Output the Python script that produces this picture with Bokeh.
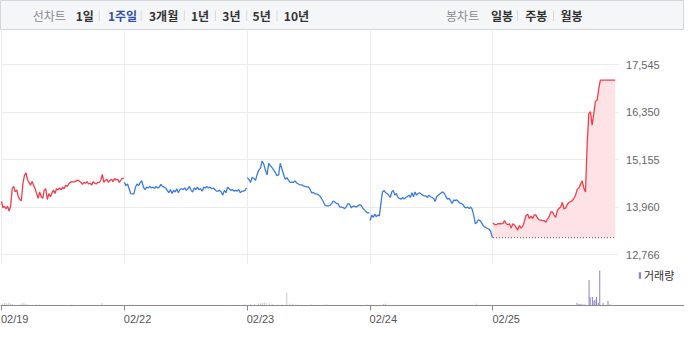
import numpy as np
from bokeh.plotting import figure
from bokeh.layouts import column
from bokeh.models import (Range1d, FixedTicker, NumeralTickFormatter, LinearAxis,
                          Legend, LegendItem, Grid)
from bokeh.core.properties import value
from bokeh.core.validation import silence
from bokeh.core.validation.warnings import MISSING_RENDERERS
from bokeh.embed import file_html
from bokeh.resources import INLINE

silence(MISSING_RENDERERS, True)

# ---------------- data ----------------
dates = ["02/19", "02/22", "02/23", "02/24", "02/25"]

price_0219 = [14110, 13950, 13990, 13920, 13990, 13870, 13990, 14430, 14490, 14350,
              14400, 14230, 14160, 14130, 14550, 14760, 14830, 14670, 14590, 14520,
              14610, 14520, 14430, 14310, 14190, 14350, 14230, 14190, 14400, 14430,
              14160, 14310, 14230, 14320, 14400, 14310, 14430, 14400, 14450, 14400,
              14470, 14430, 14520, 14490, 14550, 14590, 14610, 14600, 14610, 14630,
              14650, 14620, 14590, 14540, 14590, 14570, 14610, 14550, 14570, 14520,
              14610, 14570, 14550, 14590, 14590, 14650, 14790, 14590, 14640, 14670,
              14590, 14640, 14670, 14610, 14690, 14650, 14670, 14590, 14640, 14690,
              14690]

price_0222 = [14590, 14510, 14550, 14430, 14310, 14300, 14300, 14470, 14550, 14510,
              14590, 14630, 14470, 14410, 14470, 14450, 14490, 14450, 14470, 14440,
              14490, 14450, 14470, 14540, 14490, 14470, 14450, 14390, 14330, 14410,
              14310, 14390, 14350, 14430, 14330, 14410, 14430, 14410, 14450, 14390,
              14430, 14490, 14390, 14350, 14450, 14410, 14470, 14410, 14430, 14370,
              14470, 14450, 14490, 14450, 14470, 14430, 14450, 14410, 14370, 14370,
              14390, 14350, 14270, 14390, 14330, 14470, 14430, 14390, 14410, 14370,
              14390, 14370, 14410, 14330, 14370, 14370, 14390, 14450]

price_0223 = [14710, 14670, 14590, 14720, 14690, 14640, 14790, 14900, 14950, 15130,
              15050, 14900, 14780, 15070, 15010, 14960, 14900, 14840, 14760, 14780,
              15070, 14930, 14790, 14670, 14710, 14640, 14590, 14600, 14590, 14630,
              14570, 14550, 14530, 14530, 14500, 14490, 14480, 14480, 14420, 14330,
              14340, 14300, 14300, 14280, 14250, 14180, 14110, 14020, 14000, 14000,
              14010, 14050, 14120, 14100, 14060, 14050, 13970, 13970, 13960, 13930,
              13980, 14060, 14040, 13950, 13990, 13990, 13970, 14000, 14030, 14010,
              13940, 13900, 13850, 13820, 13830]

price_0224 = [13630, 13770, 13710, 13790, 13730, 13770, 13750, 14070, 14350, 14390,
              14330, 14310, 14270, 14210, 14350, 14390, 14270, 14310, 14210, 14190,
              14170, 14210, 14170, 14210, 14230, 14270, 14210, 14330, 14230, 14350,
              14270, 14310, 14330, 14300, 14270, 14250, 14250, 14210, 14270, 14230,
              14210, 14190, 14110, 14230, 14270, 14300, 14330, 14350, 14310, 14230,
              14170, 14190, 14130, 14060, 14150, 14130, 14150, 14110, 14070, 14060,
              14030, 13970, 13950, 13970, 13930, 13970, 13910, 13750, 13550, 13590,
              13650, 13630, 13580, 13510, 13470, 13450, 13430, 13410, 13350, 13200]

price_0225 = [13570, 13530, 13530, 13550, 13550, 13550, 13560, 13630, 13550, 13530,
              13550, 13440, 13550, 13520, 13460, 13390, 13510, 13440, 13490, 13610,
              13760, 13790, 13680, 13740, 13680, 13770, 13770, 13690, 13650, 13640,
              13630, 13630, 13590, 13670, 13730, 13850, 13850, 13770, 13710, 13890,
              13940, 13970, 14090, 13920, 13950, 14040, 14090, 14110, 14130, 14190,
              14270, 14420, 14450, 14540, 14630, 14450, 14350, 15550, 16320, 16370,
              16030, 16320, 16630, 16650, 16940, 17160, 17160, 17160, 17160, 17160,
              17160, 17160, 17160, 17160, 17160]

y_ticks = [12766, 13960, 15155, 16350, 17545]

# volume: time in trading-day units (day index + fraction of session), shares
vol_time = [0.008, 0.024, 0.040, 0.056, 0.072, 0.087, 0.151, 0.167, 0.183, 0.199,
            0.223, 0.286, 0.310, 0.573, 0.819,
            1.042, 1.066, 1.845,
            1.980, 2.028, 2.060, 2.091, 2.107, 2.123, 2.139, 2.155, 2.179, 2.203,
            2.250, 2.282, 2.322, 2.346, 2.370, 2.410, 2.521, 2.632, 2.648,
            2.974, 3.109, 3.125, 3.865,
            4.684, 4.700, 4.716, 4.732, 4.748, 4.782, 4.791, 4.809, 4.822, 4.830,
            4.843, 4.857, 4.869, 4.896, 4.936, 4.954]
vol_shares = [1500, 2500, 2000, 3000, 2000, 1500, 1000, 2000, 3000, 1500,
              1000, 1000, 1000, 1000, 2500,
              1000, 1000, 800,
              1000, 1500, 1500, 2000, 2000, 2500, 3000, 2500, 2000, 1500,
              1000, 1000, 13000, 2000, 1500, 1000, 1000, 1000, 1000,
              1000, 1500, 2000, 2000,
              2500, 1500, 1500, 1000, 1000, 26700, 9000, 9000, 5000, 6000,
              9000, 3000, 36700, 2700, 4700, 1000]
vol_label = "거래량"

menu_line_title = "선차트"
menu_line = ["1일", "1주일", "3개월", "1년", "3년", "5년", "10년"]
menu_line_active = "1주일"
menu_candle_title = "봉차트"
menu_candle = ["일봉", "주봉", "월봉"]

# ---------------- layout / style ----------------
REF_W = 700
W = 684
H_TOP, H_MAIN, H_SEP, H_VOL, H_BOT = 30, 234, 1, 78, 3

KR = "Noto Sans CJK KR"
NUM = "Liberation Sans"
RED, BLUE, FILL = "#f23d49", "#3a7be0", "#fde3e6"
GRAY_VOL, PURPLE = "#c3c6cc", "#8e7ec6"
BAR_BG = "#f5f6f8"

DAY_PX = 125.75          # reference px per trading day
X0_PX = 1.0              # reference px of first day tick
MAIN_TOP, MAIN_BOT = 31, 276
GRID_RIGHT = 632         # reference px where the price grid ends
Y_HI_PX, Y_LO_PX = 67, 266
LABEL_DX = 13.5          # half width of a date label (reference px)

x_start = (0 - X0_PX) / DAY_PX
x_grid_end = (GRID_RIGHT - X0_PX) / DAY_PX
x_end = (REF_W - X0_PX) / DAY_PX
upp = (y_ticks[-1] - y_ticks[0]) / (Y_LO_PX - Y_HI_PX)
y_lo = y_ticks[0] - (MAIN_BOT - Y_LO_PX) * upp
y_hi = y_ticks[-1] + (Y_HI_PX - MAIN_TOP) * upp
day_ticks = list(range(len(dates)))

common = dict(output_backend="svg", toolbar_location=None, width=W, min_border=0)

# ---------------- top menu bar ----------------
top = figure(height=H_TOP, x_range=Range1d(0, REF_W), y_range=Range1d(30, 0),
             x_axis_location=None, y_axis_location=None,
             background_fill_color=BAR_BG, border_fill_color=BAR_BG,
             outline_line_color="#d3d6db", **common)
top.grid.visible = False
line_x = [77, 110, 152, 195, 227, 258, 290]
candle_x = [502, 537, 573]
sep_x = [101, 144, 188, 220, 252, 283, 529, 566]
top.text(x=[33, 456], y=[15, 15], text=[menu_line_title, menu_candle_title],
         text_font=value(KR), text_font_size="12px", text_color="#8a8a8a",
         text_baseline="middle", text_align="left")
top.text(x=line_x + candle_x, y=[15] * (len(line_x) + len(candle_x)),
         text=menu_line + menu_candle,
         text_color=["#2f4fae" if m == menu_line_active else "#333333" for m in menu_line]
         + ["#333333"] * len(menu_candle),
         text_font=value(KR), text_font_size="12px", text_font_style="bold",
         text_baseline="middle", text_align="left")
top.segment(x0=sep_x, y0=[10] * len(sep_x), x1=sep_x, y1=[20.5] * len(sep_x),
            line_color="#dadada", line_width=1)


def strip(h, color):
    f = figure(height=h, x_range=Range1d(0, 1), y_range=Range1d(0, 1),
               x_axis_location=None, y_axis_location=None,
               background_fill_color=color, border_fill_color=color,
               outline_line_color=None, **common)
    f.grid.visible = False
    return f


# ---------------- main price chart ----------------
p = figure(height=H_MAIN, x_range=Range1d(x_start, x_end),
           y_range=Range1d(y_lo, y_hi), x_axis_location=None, y_axis_location=None,
           background_fill_color="white", border_fill_color="white",
           outline_line_color=None, **common)
p.grid.visible = False
p.add_layout(Grid(dimension=0, ticker=FixedTicker(ticks=day_ticks),
                  grid_line_color="#ececec"))
p.add_layout(Grid(dimension=1, ticker=FixedTicker(ticks=y_ticks),
                  cross_bounds=(x_start, x_grid_end), grid_line_color="#ebebeb"))
ay = LinearAxis(ticker=FixedTicker(ticks=y_ticks), formatter=NumeralTickFormatter(format="0,0"),
                fixed_location=x_grid_end, axis_line_color=None,
                major_tick_line_color=None, minor_tick_line_color=None,
                major_tick_out=0, major_tick_in=0, major_label_standoff=8,
                major_label_text_font=NUM, major_label_text_font_size="11px",
                major_label_text_color="#666666")
p.add_layout(ay, "right")

days = [price_0219, price_0222, price_0223, price_0224, price_0225]
prev = days[0][0]
for d, vals in enumerate(days):
    t = np.linspace(d, d + 0.995, len(vals))
    color = RED if vals[-1] >= prev else BLUE
    if d == len(days) - 1:
        base = prev
        p.varea(x=t, y1=[base] * len(vals), y2=vals, fill_color=FILL)
        p.line(x=[t[0], t[-1]], y=[base, base], line_color="#555555",
               line_dash="1 2", line_width=1)
    p.line(x=t, y=vals, line_color=color, line_width=1.3)
    prev = vals[-1]

sep = strip(H_SEP, "#8c8c8c")

# ---------------- volume chart ----------------
vmax = max(vol_shares) * 42 / 36.7
vcommon = dict(common)
vcommon["min_border_bottom"] = 38
vcommon.pop("min_border")
v = figure(height=H_VOL, x_range=Range1d(x_start, x_end),
           y_range=Range1d(0, vmax), x_axis_location=None, y_axis_location=None,
           min_border_left=0, min_border_right=0, min_border_top=0,
           background_fill_color="white", border_fill_color="white",
           outline_line_color=None, **vcommon)
v.grid.visible = False
vt = np.array(vol_time)
vv = np.array(vol_shares)
last = vt >= len(dates) - 1
v.vbar(x=vt[~last], top=vv[~last], width=0.008, fill_color=GRAY_VOL, line_color=None)
rv = v.vbar(x=vt[last], top=vv[last], width=0.008, fill_color=PURPLE, line_color=None)

# date labels start at their tick: label axis on a range shifted by half a label
off = LABEL_DX / DAY_PX
v.extra_x_ranges = {"labels": Range1d(x_start - off, x_end - off)}
xa = LinearAxis(x_range_name="labels",
                ticker=FixedTicker(ticks=day_ticks, minor_ticks=[d - off for d in day_ticks]),
                major_label_overrides={i: s for i, s in enumerate(dates)},
                axis_line_color="#8a8a8a", major_tick_line_color=None,
                major_tick_out=5, major_tick_in=0,
                minor_tick_line_color="#8a8a8a", minor_tick_out=5, minor_tick_in=0,
                major_label_standoff=2, major_label_text_font=NUM,
                major_label_text_font_size="11px", major_label_text_color="#555555")
v.add_layout(xa, "below")

leg = Legend(items=[LegendItem(label=vol_label, renderers=[rv])], location=(638, 22),
             padding=0, margin=0, spacing=0, border_line_color=None,
             background_fill_alpha=0, glyph_width=3, glyph_height=8, label_standoff=3,
             label_height=13, label_text_font=KR, label_text_font_size="11px",
             label_text_color="#333333")
v.add_layout(leg)

bot = strip(H_BOT, "#555555")

layout = column(top, p, sep, v, bot, spacing=0)
open("out.html", "w").write(file_html(layout, INLINE))
